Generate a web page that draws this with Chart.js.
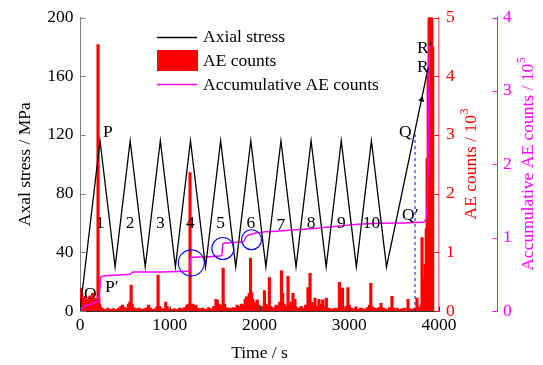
<!DOCTYPE html>
<html><head><meta charset="utf-8">
<script src="https://cdn.jsdelivr.net/npm/chart.js@4.4.0/dist/chart.umd.min.js"></script>
<style>html,body{margin:0;padding:0;background:#fff;}canvas{display:block;}</style>
</head><body>
<canvas id="c" width="543" height="365"></canvas>
<script>
// ---- data ----
const stressTime  = [0, 223, 391, 559, 727, 895, 1063, 1231, 1399, 1567, 1735, 1903, 2071, 2239, 2407, 2575, 2743, 2911, 3079, 3247, 3415, 3880];
const stressValue = [0, 116, 30, 116, 30, 116, 30, 116, 30, 116, 30, 116, 30, 116, 30, 116, 30, 116, 30, 116, 30, 166];

const aeTime = [5,12,20,28,36,44,52,60,68,76,84,92,100,110,118,126,134,142,150,158,166,174,182,190,201,210,218,226,236,
 255,280,310,340,370,400,430,455,475,495,515,540,555,570,582,600,630,660,690,720,745,765,785,810,840,860,870,885,905,930,955,970,990,1020,1050,1080,1110,1140,1165,1190,1210,1226,1240,
 1255,1270,1290,1310,1340,1370,1400,1430,1460,1490,1515,1530,1550,1570,1595,1610,1630,1655,1680,1705,1730,1750,1775,1800,1820,1840,1855,1870,1885,1900,1912,1925,1940,1955,1975,1995,2015,2035,2055,2070,2090,2110,2125,2145,2165,2185,2205,2225,2245,
 2258,2275,2295,2318,2335,2355,2373,2395,2415,2440,2465,2490,2515,2540,2563,2580,2600,2618,2640,2663,2685,2705,2725,2745,2765,2790,2815,2840,2865,2890,2905,2925,2945,2965,2985,3000,3020,3045,3075,3100,3125,3150,3175,3200,3225,3240,3255,
 3280,3305,3330,3354,3375,3400,3425,3450,3476,3495,3532,3560,3590,3620,3655,3680,3705,3730,3755,3780,3800,3811,3830,3845,3858,3868,3880,3890,3900,3910,3920,3930];
const aeCount = [0.39,0.12,0.3,0.1,0.22,0.16,0.1,0.25,0.14,0.2,0.11,0.18,0.12,0.26,0.14,0.2,0.15,0.3,0.18,0.12,0.22,0.14,0.2,0.12,4.54,0.24,0.12,0.08,0.05,
 0.04,0.03,0.05,0.03,0.04,0.03,0.05,0.08,0.1,0.06,0.05,0.12,0.15,0.44,0.12,0.06,0.04,0.05,0.03,0.04,0.06,0.1,0.05,0.03,0.04,0.08,0.61,0.08,0.05,0.04,0.15,0.08,0.05,0.03,0.04,0.03,0.05,0.04,0.06,0.1,0.12,2.36,0.1,
 0.12,0.08,0.1,0.05,0.04,0.05,0.03,0.06,0.04,0.08,0.2,0.18,0.12,0.1,0.73,0.12,0.06,0.05,0.04,0.06,0.05,0.1,0.08,0.12,0.1,0.2,0.24,0.15,0.3,0.9,0.32,0.2,0.15,0.12,0.19,0.1,0.05,0.08,0.35,0.12,0.1,0.57,0.08,0.05,0.06,0.1,0.08,0.15,0.69,
 0.3,0.12,0.08,0.59,0.1,0.15,0.3,0.2,0.06,0.05,0.08,0.05,0.1,0.4,0.64,0.15,0.1,0.22,0.08,0.2,0.12,0.19,0.08,0.22,0.05,0.04,0.03,0.05,0.04,0.49,0.15,0.39,0.05,0.08,0.4,0.1,0.05,0.04,0.07,0.03,0.05,0.04,0.03,0.06,0.1,0.47,0.08,
 0.05,0.04,0.06,0.13,0.05,0.04,0.03,0.06,0.25,0.05,0.05,0.03,0.04,0.05,0.2,0.04,0.03,0.05,0.22,0.06,0.1,1.25,0.57,0.8,1.4,2.6,4.0,5,5,5,5,4.5];

const accTime  = [0, 56, 123, 178, 208, 231, 240, 557, 590, 869, 1092, 1222, 1231, 1448, 1560, 1579, 1593, 1816, 1850, 1916, 2228, 2563, 2897, 3198, 3565, 3820, 3855, 3870, 3880, 3892];
const accValue = [0, 0.07, 0.09, 0.12, 0.13, 0.45, 0.47, 0.50, 0.53, 0.53, 0.54, 0.545, 0.726, 0.74, 0.75, 0.76, 0.92, 0.94, 1.01, 1.05, 1.09, 1.12, 1.16, 1.19, 1.20, 1.21, 1.25, 1.45, 2.2, 3.62];

const circleTime   = [1240, 1592, 1911];
const circleStress = [32.8, 42.6, 48.6];
const dashTime   = [3733, 3733];
const dashStress = [0, 121];
const arrowTime   = [3807];
const arrowStress = [144];

const cycleLabels = ['1','2','3','4','5','6','7','8','9','10'];
const cycleTime   = [223, 559, 895, 1231, 1567, 1903, 2239, 2575, 2911, 3247];
const cycleStress = [59.5, 59.5, 59.5, 59.5, 60, 60, 58.5, 60, 60, 60];

const pointLabels = ['O', 'P', 'P\u2032', 'Q', 'Q\u2032', 'R', 'R\u2032'];
const pointTime   = [45, 256, 279, 3555, 3588, 3755, 3755];
const pointStress = [11, 121.6, 16.4, 121.6, 65, 166, 178.6];

const legendLabels = ['Axial stress', 'AE counts', 'Accumulative AE counts'];
const xTitle = 'Time / s';
const yTitle = 'Axal stress / MPa';
const aeTitle = ['AE counts / 10', '3'];
const accTitle = ['Accumulative AE counts / 10', '5'];

// ---- chart ----
const FONT = '"Liberation Serif", "Times New Roman", serif';
const FS = 17.5;
const RED = '#ff0000', MAG = '#ff00ff';
const xy = (xs, ys) => xs.map((v, i) => ({x: v, y: ys[i]}));
const plain = v => String(v);

const decor = {
  id: 'decor',
  afterDatasetsDraw(chart) {
    const ctx = chart.ctx, a = chart.chartArea;
    const {x, y, yAE, yAcc} = chart.scales;
    ctx.save();
    // inward tick marks
    ctx.lineWidth = 1;
    const tk = (scale, color, fn) => {
      ctx.strokeStyle = color;
      scale.ticks.forEach(t => { const p = Math.round(scale.getPixelForValue(t.value)) + 0.5; ctx.beginPath(); fn(p); ctx.stroke(); });
    };
    tk(y, '#808080', p => { ctx.moveTo(a.left, p); ctx.lineTo(a.left + 5.5, p); });
    tk(yAE, RED, p => { ctx.moveTo(yAE.left, p); ctx.lineTo(yAE.left - 4.5, p); });
    tk(yAcc, MAG, p => { ctx.moveTo(yAcc.left, p); ctx.lineTo(yAcc.left - 4.5, p); });
    tk(x, '#333', p => { ctx.moveTo(p, a.bottom); ctx.lineTo(p, a.bottom - 4.5); });

    // annotations
    ctx.fillStyle = '#000';
    ctx.font = FS + 'px ' + FONT;
    ctx.textBaseline = 'middle';
    ctx.textAlign = 'center';
    cycleLabels.forEach((s, i) => ctx.fillText(s, x.getPixelForValue(cycleTime[i]), y.getPixelForValue(cycleStress[i])));
    ctx.textAlign = 'left';
    pointLabels.forEach((s, i) => ctx.fillText(s, x.getPixelForValue(pointTime[i]), y.getPixelForValue(pointStress[i])));

    // legend
    ctx.lineWidth = 1.3; ctx.strokeStyle = '#000';
    ctx.beginPath(); ctx.moveTo(157, 37.5); ctx.lineTo(197, 37.5); ctx.stroke();
    ctx.fillStyle = RED; ctx.fillRect(157, 50, 41, 21);
    ctx.lineWidth = 1.5; ctx.strokeStyle = MAG;
    ctx.beginPath(); ctx.moveTo(157, 84.5); ctx.lineTo(197, 84.5); ctx.stroke();
    ctx.fillStyle = '#000';
    ctx.fillText(legendLabels[0], 203, 37);
    ctx.fillText(legendLabels[1], 203, 61);
    ctx.fillText(legendLabels[2], 203, 85);

    // right axis titles (rotated, reading bottom to top)
    const rt = (parts, cx, color) => {
      ctx.save();
      ctx.translate(cx, (a.top + a.bottom) / 2);
      ctx.rotate(-Math.PI / 2);
      ctx.fillStyle = color;
      ctx.font = FS + 'px ' + FONT;
      const w1 = ctx.measureText(parts[0]).width;
      ctx.font = '12px ' + FONT;
      const w2 = ctx.measureText(parts[1]).width;
      const x0 = -(w1 + w2) / 2;
      ctx.textAlign = 'left';
      ctx.textBaseline = 'middle';
      ctx.font = FS + 'px ' + FONT;
      ctx.fillText(parts[0], x0, 0);
      ctx.font = '12px ' + FONT;
      ctx.fillText(parts[1], x0 + w1 + 0.5, -6);
      ctx.restore();
    };
    rt(aeTitle, 471, RED);
    rt(accTitle, 528, MAG);
    ctx.restore();
  }
};

new Chart(document.getElementById('c'), {
  type: 'line',
  data: {
    datasets: [
      { type: 'scatter', data: xy(circleTime, circleStress), xAxisID: 'x', yAxisID: 'y',
        pointRadius: [13, 11, 10], pointBorderColor: '#0000ff', pointBackgroundColor: 'rgba(0,0,0,0)', pointBorderWidth: 1.1, showLine: false, order: 0 },
      { type: 'scatter', data: xy(arrowTime, arrowStress), xAxisID: 'x', yAxisID: 'y',
        pointStyle: 'triangle', pointRadius: 3.5, rotation: 11.6, pointBackgroundColor: '#000', pointBorderColor: '#000', pointBorderWidth: 0, order: 0 },
      { type: 'line', label: legendLabels[0], data: xy(stressTime, stressValue), xAxisID: 'x', yAxisID: 'y',
        borderColor: '#000', borderWidth: 1.3, pointRadius: 0, tension: 0, order: 1 },
      { type: 'line', data: xy(dashTime, dashStress), xAxisID: 'x', yAxisID: 'y',
        borderColor: '#0000ff', borderWidth: 1, borderDash: [3, 3], pointRadius: 0, order: 1 },
      { type: 'line', label: legendLabels[2], data: xy(accTime, accValue), xAxisID: 'x', yAxisID: 'yAcc',
        borderColor: MAG, borderWidth: 1.5, pointRadius: 0, cubicInterpolationMode: 'monotone', order: 2 },
      { type: 'bar', label: legendLabels[1], data: xy(aeTime, aeCount), xAxisID: 'x', yAxisID: 'yAE',
        backgroundColor: RED, borderWidth: 0, barThickness: 2.5, order: 3 }
    ]
  },
  options: {
    responsive: false,
    animation: false,
    events: [],
    layout: { padding: { top: 15, left: 0, right: 0, bottom: 0 } },
    plugins: { legend: { display: false }, tooltip: { enabled: false } },
    scales: {
      x: {
        type: 'linear', min: 0, max: 4000, offset: false, position: 'bottom',
        ticks: { stepSize: 1000, color: '#000', font: { family: FONT, size: FS }, padding: 4, maxRotation: 0, autoSkip: false, callback: plain },
        grid: { display: false, drawTicks: false },
        border: { display: true, color: '#333', width: 1 },
        title: { display: true, text: xTitle, color: '#000', font: { family: FONT, size: FS }, padding: { top: 0, bottom: 1.5 } },
        afterFit: s => { s.height = 54; }
      },
      y: {
        type: 'linear', position: 'left', min: 0, max: 200,
        ticks: { stepSize: 40, color: '#000', font: { family: FONT, size: FS }, padding: 6.5, callback: plain },
        grid: { display: false, drawTicks: false },
        border: { display: true, color: '#808080', width: 1 },
        title: { display: true, text: yTitle, color: '#000', font: { family: FONT, size: FS }, padding: { top: 14.5, bottom: 0 } },
        afterFit: s => { s.width = 80; }
      },
      yAE: {
        type: 'linear', position: 'right', min: 0, max: 5, weight: 0,
        ticks: { stepSize: 1, color: RED, font: { family: FONT, size: FS }, padding: 7, callback: plain },
        grid: { display: false, drawTicks: false },
        border: { display: true, color: '#f08080', width: 1.5 },
        afterFit: s => { s.width = 58; }
      },
      yAcc: {
        type: 'linear', position: 'right', min: 0, max: 4, weight: 1,
        ticks: { stepSize: 1, color: MAG, font: { family: FONT, size: FS }, padding: 6, callback: plain },
        grid: { display: false, drawTicks: false },
        border: { display: true, color: MAG, width: 1 },
        afterFit: s => { s.width = 46; }
      }
    }
  },
  plugins: [decor]
});
</script>
</body></html>
